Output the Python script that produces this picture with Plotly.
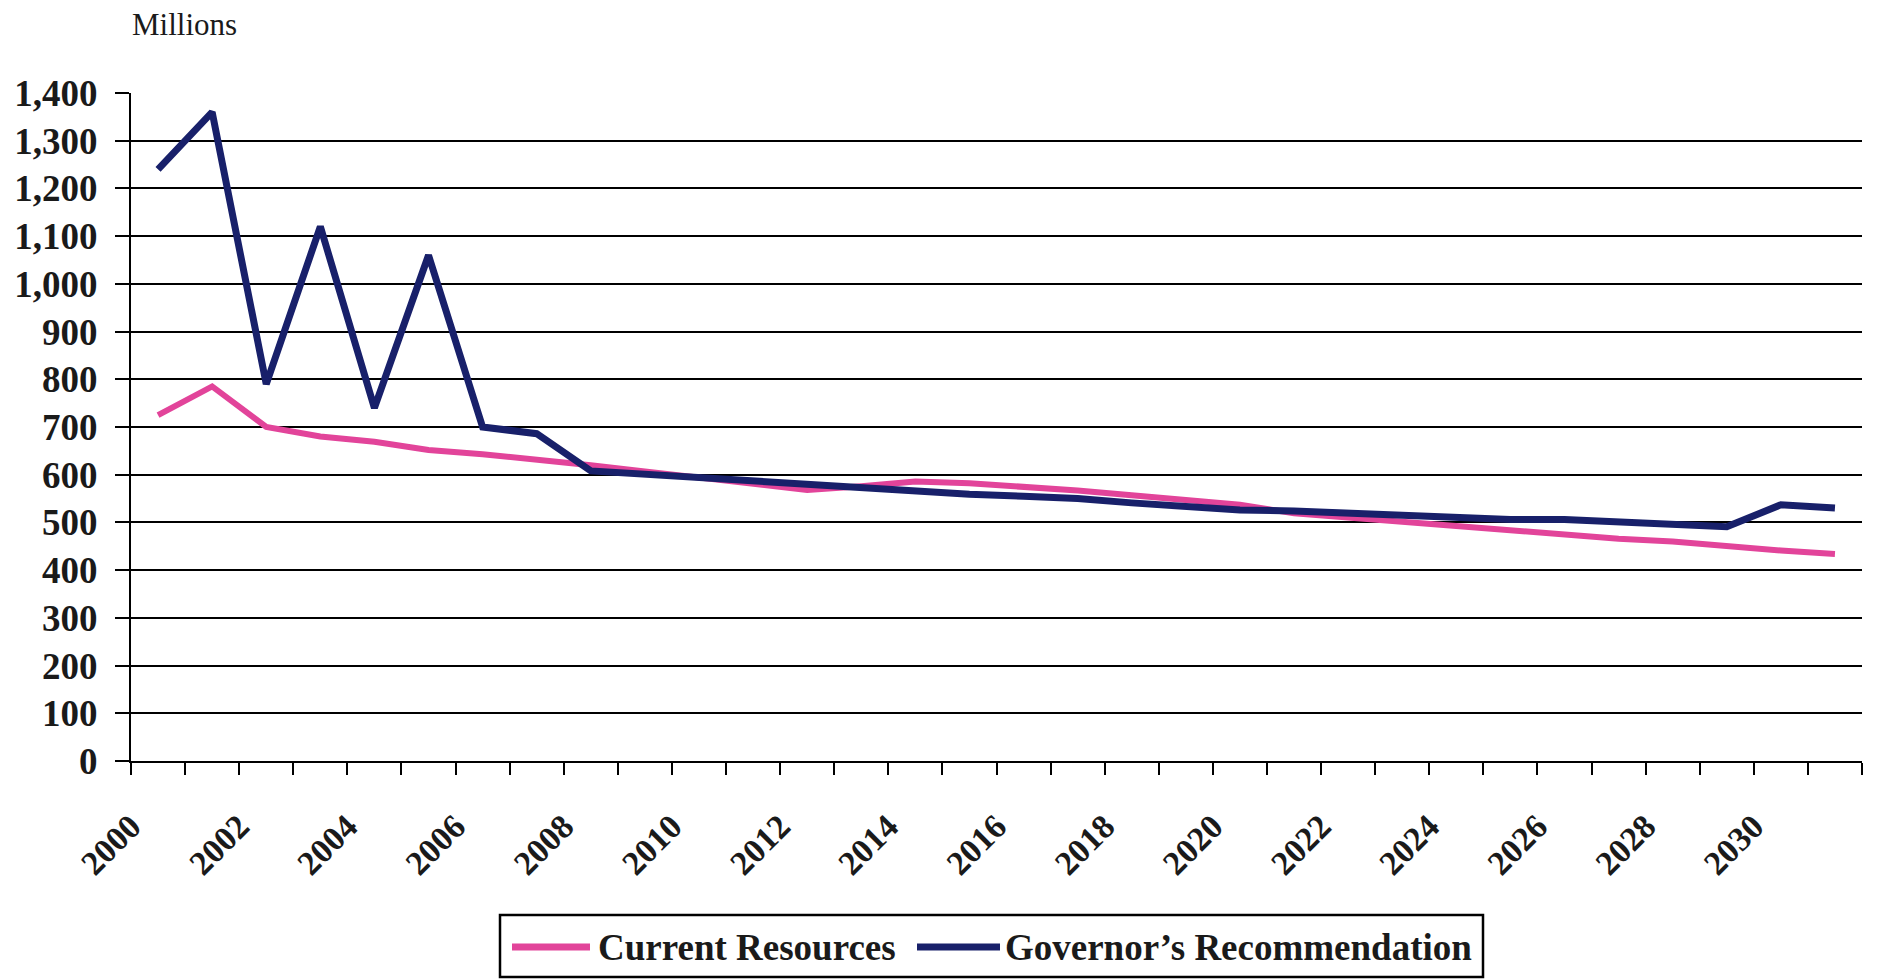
import plotly.graph_objects as go

# Annual figures, in millions
years = list(range(2000, 2032))
current_resources = [725, 785, 700, 680, 669, 652, 643, 633, 620, 607,
                     593, 579, 568, 576, 586, 582, 576, 567, 557, 546,
                     537, 519, 510, 503, 495, 484, 476, 466, 460, 450,
                     441, 434]
governors_recommendation = [1240, 1360, 790, 1120, 740, 1060, 700, 686, 608, 601,
                            593, 586, 580, 574, 564, 559, 555, 550, 541, 534,
                            526, 524, 519, 514, 509, 506, 506, 500, 494, 491,
                            537, 530]
series_names = ["Current Resources", "Governor\u2019s Recommendation"]
label_years = years[::2]

PINK = "#E2449A"
NAVY = "#18206A"
SERIF = "Liberation Serif"

W, H = 1881, 980
ML, MR, MT, MB = 131, 19, 93, 219
PW, PH = W - ML - MR, H - MT - MB


def px_x(px):
    return (px - ML) / PW


def px_y(py):
    return (H - MB - py) / PH


fig = go.Figure()
fig.add_trace(go.Scatter(x=years, y=current_resources, name=series_names[0],
                         mode="lines", line=dict(color=PINK, width=6)))
fig.add_trace(go.Scatter(x=years, y=governors_recommendation, name=series_names[1],
                         mode="lines", line=dict(color=NAVY, width=7)))

fig.update_layout(
    width=W, height=H,
    margin=dict(l=ML, r=MR, t=MT, b=MB),
    paper_bgcolor="white", plot_bgcolor="white",
    showlegend=False,
    font=dict(family=SERIF, color="#1a1a1a"),
)

fig.update_xaxes(
    range=[years[0] - 0.5, years[-1] + 0.5],
    tickmode="array", tickvals=label_years, ticktext=[str(y) for y in label_years],
    ticks="", tickangle=-45,
    tickfont=dict(family=SERIF, size=34, weight="bold", color="#1a1a1a"),
    ticklabelstandoff=30, ticklabelshift=-27,
    showgrid=False, zeroline=False,
    showline=True, linecolor="black", linewidth=2,
    minor=dict(tick0=years[0] - 0.5, dtick=1, ticks="outside",
               ticklen=12, tickwidth=2, tickcolor="black", showgrid=False),
)

fig.update_yaxes(
    range=[0, 1400], dtick=100, tickformat=",",
    ticks="outside", ticklen=14, tickwidth=2, tickcolor="black",
    tickfont=dict(family=SERIF, size=37, weight="bold", color="#1a1a1a"),
    ticklabelstandoff=10,
    showgrid=True, gridcolor="black", gridwidth=2,
    zeroline=False, showline=True, linecolor="black", linewidth=2,
)

# Legend box drawn by hand
shapes = [
    dict(type="rect", xref="paper", yref="paper",
         x0=px_x(500), x1=px_x(1483), y0=px_y(977), y1=px_y(915),
         line=dict(color="black", width=2.5), fillcolor="white"),
    dict(type="line", xref="paper", yref="paper",
         x0=px_x(512), x1=px_x(590), y0=px_y(947), y1=px_y(947),
         line=dict(color=PINK, width=7)),
    dict(type="line", xref="paper", yref="paper",
         x0=px_x(917), x1=px_x(1000), y0=px_y(947), y1=px_y(947),
         line=dict(color=NAVY, width=7)),
]
annotations = [
    dict(text=series_names[0], xref="paper", yref="paper",
         x=px_x(596), y=px_y(947), xanchor="left", yanchor="middle", showarrow=False,
         font=dict(family=SERIF, size=37, weight="bold", color="#1a1a1a")),
    dict(text=series_names[1], xref="paper", yref="paper",
         x=px_x(1003), y=px_y(947), xanchor="left", yanchor="middle", showarrow=False,
         font=dict(family=SERIF, size=37, weight="bold", color="#1a1a1a")),
    dict(text="Millions", xref="paper", yref="paper",
         x=px_x(130), y=px_y(5), xanchor="left", yanchor="top", showarrow=False,
         font=dict(family=SERIF, size=31, color="#1a1a1a")),
]
fig.update_layout(shapes=shapes, annotations=annotations)

fig.write_html("out.html")
